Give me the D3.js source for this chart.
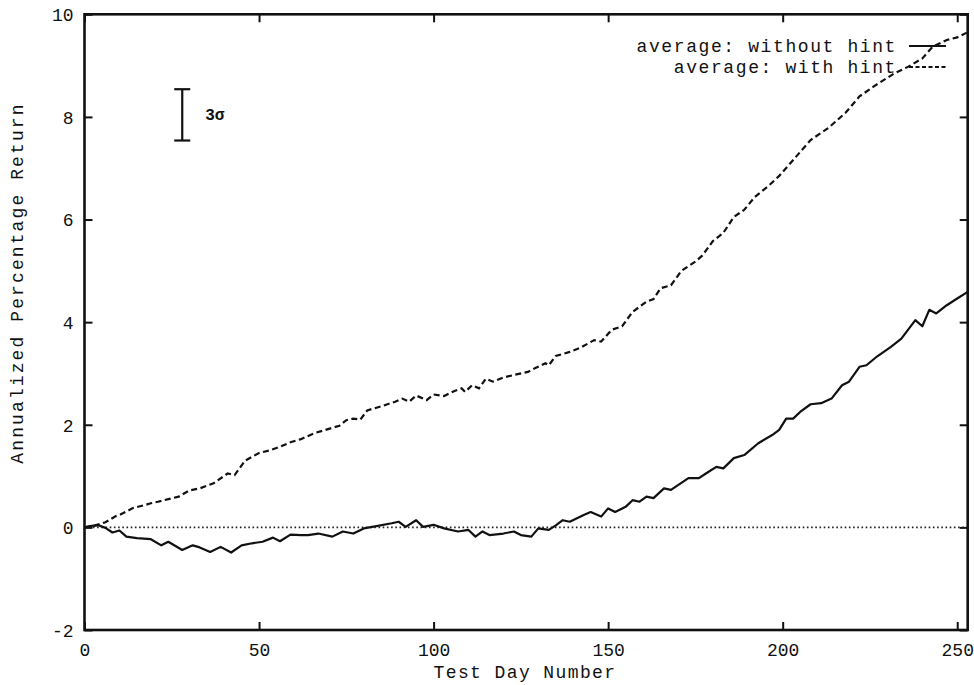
<!DOCTYPE html>
<html>
<head>
<meta charset="utf-8">
<script src="https://cdn.jsdelivr.net/npm/d3@7"></script>
<style>
  html, body { margin: 0; padding: 0; background: #fff; }
  svg { display: block; }
  text { font-family: "Liberation Mono", "DejaVu Sans Mono", monospace; fill: #111; }
</style>
</head>
<body>
<svg id="chart" width="974" height="685"></svg>
<script>
// ---- data ----
const withHintDays = [0,3,6,9,10,14,17,19,21,24,27,30,33,37,41,43,46,50,53,56,59,62,66,70,73,75,77,79,81,85,89,91,93,95,98,100,103,106,108,109,111,113,115,117,120,123,127,129,132,133,135,139,142,146,148,151,154,157,161,163,165,168,171,175,177,180,183,186,189,192,196,199,203,208,213,218,222,226,232,236,240,243,247,250,253];
const withHintValues = [0.00,0.04,0.10,0.22,0.24,0.38,0.43,0.47,0.50,0.55,0.60,0.72,0.76,0.86,1.05,1.02,1.30,1.45,1.50,1.57,1.66,1.72,1.84,1.92,1.98,2.09,2.12,2.10,2.28,2.36,2.45,2.51,2.45,2.57,2.48,2.59,2.56,2.66,2.71,2.64,2.77,2.71,2.90,2.84,2.92,2.97,3.03,3.10,3.20,3.16,3.34,3.42,3.50,3.65,3.62,3.85,3.92,4.20,4.40,4.45,4.66,4.72,5.00,5.18,5.30,5.58,5.74,6.05,6.19,6.44,6.66,6.85,7.16,7.55,7.78,8.08,8.40,8.59,8.85,8.98,9.14,9.37,9.50,9.55,9.65];

const withoutHintDays = [0,2,4,6,8,10,12,15,19,22,24,28,31,33,36,39,42,45,48,51,54,56,59,62,64,67,71,74,77,80,84,88,90,92,95,97,100,103,107,110,112,114,116,120,123,125,128,130,133,135,137,139,143,145,148,150,152,155,157,159,161,163,166,168,173,176,178,181,183,186,189,193,197,199,201,203,205,208,211,214,217,219,222,224,227,231,234,238,240,242,244,247,250,253];
const withoutHintValues = [0.00,0.03,0.04,-0.01,-0.10,-0.06,-0.18,-0.21,-0.23,-0.35,-0.28,-0.44,-0.35,-0.39,-0.48,-0.38,-0.49,-0.35,-0.31,-0.28,-0.20,-0.27,-0.14,-0.15,-0.15,-0.12,-0.18,-0.08,-0.12,-0.02,0.03,0.08,0.11,0.01,0.14,0.01,0.05,-0.02,-0.08,-0.05,-0.18,-0.08,-0.15,-0.12,-0.08,-0.15,-0.18,-0.02,-0.05,0.04,0.14,0.11,0.24,0.30,0.21,0.37,0.30,0.40,0.53,0.50,0.60,0.57,0.76,0.73,0.96,0.96,1.05,1.18,1.15,1.35,1.41,1.64,1.80,1.90,2.12,2.12,2.25,2.40,2.42,2.51,2.77,2.84,3.13,3.16,3.33,3.52,3.68,4.04,3.92,4.24,4.17,4.33,4.46,4.59];

const xTicks = [0, 50, 100, 150, 200, 250];
const yTicks = [-2, 0, 2, 4, 6, 8, 10];
const xDomain = [0, 253];
const yDomain = [-2, 10];

const seriesLabels = ["average: without hint", "average: with hint"];
const sigmaDay = [28];
const sigmaCenter = [8.04];
const sigmaHalf = [0.5];
const sigmaLabel = "3\u03c3";
const zeroLine = [0];

// ---- layout ----
const L = 84.5, R = 967.7, T = 14.3, B = 630;
const svg = d3.select("#chart");
const x = d3.scaleLinear().domain(xDomain).range([L, R]);
const y = d3.scaleLinear().domain(yDomain).range([B, T]);

const axisStroke = "#111";
const fmt = d => String(d);

// axes (inward ticks on all sides)
const gB = svg.append("g").attr("transform", `translate(0,${B})`)
  .call(d3.axisBottom(x).tickValues(xTicks).tickSize(-8).tickPadding(13).tickFormat(fmt));
const gT = svg.append("g").attr("transform", `translate(0,${T})`)
  .call(d3.axisTop(x).tickValues(xTicks).tickSize(-8).tickFormat(""));
const gL = svg.append("g").attr("transform", `translate(${L},0)`)
  .call(d3.axisLeft(y).tickValues(yTicks).tickSize(-8).tickPadding(11).tickFormat(fmt));
const gR = svg.append("g").attr("transform", `translate(${R},0)`)
  .call(d3.axisRight(y).tickValues(yTicks).tickSize(-8).tickFormat(""));

[gB, gT, gL, gR].forEach(g => {
  g.select(".domain").remove();
  g.selectAll(".tick line").attr("stroke", axisStroke).attr("stroke-width", 2);
  g.selectAll(".tick text").attr("font-family", "Liberation Mono, monospace").attr("font-size", 18).attr("fill", "#111");
});
gB.selectAll(".tick text").attr("dy", "0.71em");
gL.selectAll(".tick text").attr("dy", "0.35em");

// zero line (dotted)
svg.append("g").selectAll("line").data(zeroLine).join("line")
  .attr("x1", x(xDomain[0])).attr("x2", x(xDomain[1]))
  .attr("y1", d => y(d)).attr("y2", d => y(d))
  .attr("stroke", "#222").attr("stroke-width", 1.6).attr("stroke-dasharray", "1.6,2.6");

// series
const line = d3.line().x(d => x(d[0])).y(d => y(d[1]));
const dataWithout = withoutHintDays.map((d, i) => [d, withoutHintValues[i]]);
const dataWith = withHintDays.map((d, i) => [d, withHintValues[i]]);

svg.append("path").datum(dataWith).attr("d", line)
  .attr("fill", "none").attr("stroke", "#111").attr("stroke-width", 2.2)
  .attr("stroke-dasharray", "6,3.5");
svg.append("path").datum(dataWithout).attr("d", line)
  .attr("fill", "none").attr("stroke", "#111").attr("stroke-width", 2.2)
  .attr("stroke-linejoin", "round");

// frame
svg.append("rect").attr("x", L).attr("y", T).attr("width", R - L).attr("height", B - T)
  .attr("fill", "none").attr("stroke", axisStroke).attr("stroke-width", 2.6);

// 3 sigma error bar
const sg = svg.append("g");
sigmaDay.forEach((d, i) => {
  const cx = x(d), y1 = y(sigmaCenter[i] + sigmaHalf[i]), y2 = y(sigmaCenter[i] - sigmaHalf[i]);
  sg.append("line").attr("x1", cx).attr("x2", cx).attr("y1", y1).attr("y2", y2).attr("stroke", "#111").attr("stroke-width", 2.2);
  sg.append("line").attr("x1", cx - 8).attr("x2", cx + 8).attr("y1", y1).attr("y2", y1).attr("stroke", "#111").attr("stroke-width", 2.2);
  sg.append("line").attr("x1", cx - 8).attr("x2", cx + 8).attr("y1", y2).attr("y2", y2).attr("stroke", "#111").attr("stroke-width", 2.2);
  sg.append("text").attr("x", cx + 23).attr("y", y(sigmaCenter[i])).attr("dy", "0.35em")
    .attr("font-size", 16).attr("font-weight", "bold").text(sigmaLabel);
});

// legend
const lg = svg.append("g");
const legendY = [46, 67];
const legendDash = [null, "4,2.5"];
seriesLabels.forEach((s, i) => {
  lg.append("text").attr("x", 897).attr("y", legendY[i]).attr("dy", "0.35em")
    .attr("text-anchor", "end").attr("font-size", 18).attr("letter-spacing", 1.6).text(s);
  const l = lg.append("line").attr("x1", 909).attr("x2", 946).attr("y1", legendY[i]).attr("y2", legendY[i])
    .attr("stroke", "#111").attr("stroke-width", 2);
  if (legendDash[i]) l.attr("stroke-dasharray", legendDash[i]);
});

// axis titles
svg.append("text").attr("x", (433 + 617) / 2).attr("y", 678).attr("text-anchor", "middle")
  .attr("font-size", 18).attr("letter-spacing", 1.4).text("Test Day Number");
svg.append("text").attr("transform", `translate(23,${(100 + 466) / 2}) rotate(-90)`)
  .attr("text-anchor", "middle").attr("font-size", 18).attr("letter-spacing", 2.1).text("Annualized Percentage Return");
</script>
</body>
</html>
